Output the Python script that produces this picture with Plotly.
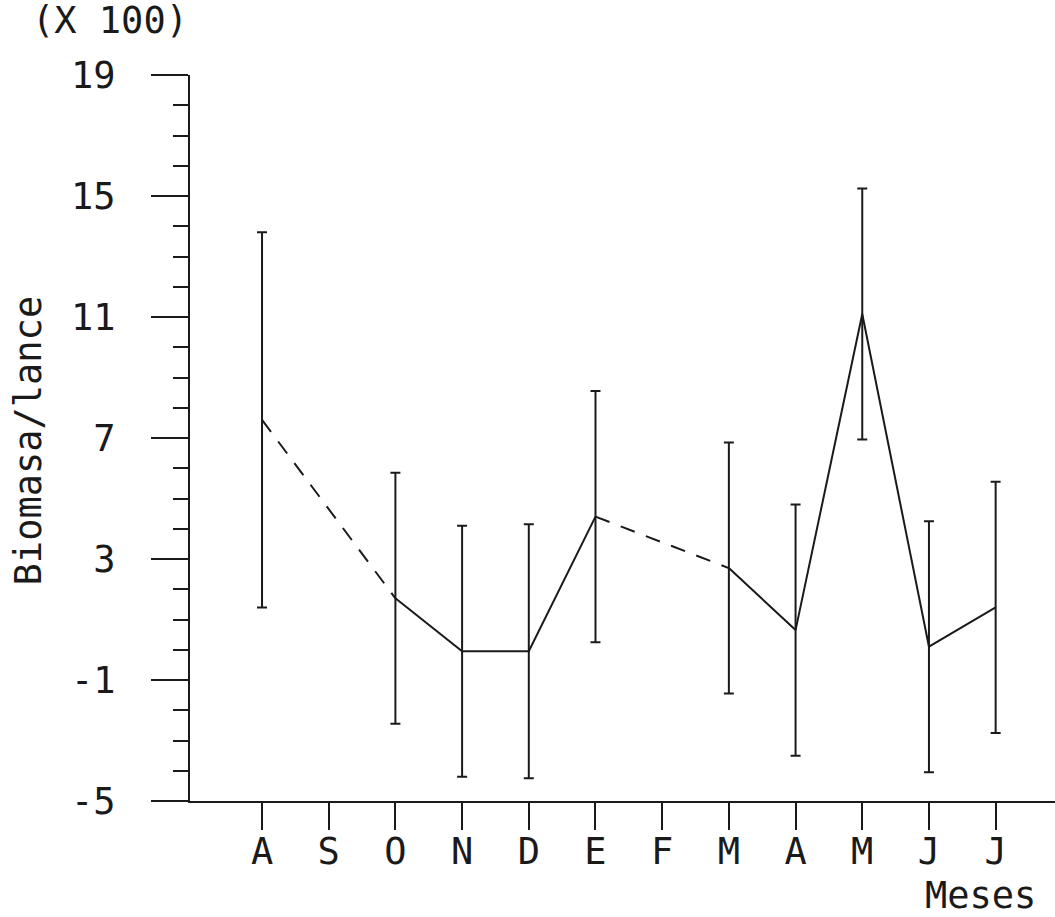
import plotly.graph_objects as go

# ---- data ----
months = ["A", "S", "O", "N", "D", "E", "F", "M", "A", "M", "J", "J"]
biomasa = [7.6, None, 1.7, -0.05, -0.05, 4.4, None, 2.7, 0.65, 11.1, 0.1, 1.4]
error = [6.2, None, 4.15, 4.15, 4.2, 4.15, None, 4.15, 4.15, 4.15, 4.15, 4.15]
y_ticks = [19, 15, 11, 7, 3, -1, -5]
y_ticktext = ["19", "15", "11", "7", "3", "-1", "-5"]

x_idx = list(range(len(months)))

FONT = "DejaVu Sans Mono"
INK = "#1a1a1a"

fig = go.Figure()

# solid line segments (gaps where no sample)
fig.add_trace(go.Scatter(
    x=x_idx, y=biomasa, mode="lines", connectgaps=False,
    line=dict(color=INK, width=2), hoverinfo="skip", showlegend=False))

# dashed segments bridging the missing months
valid = [i for i, v in enumerate(biomasa) if v is not None]
for a, b in zip(valid[:-1], valid[1:]):
    if b - a > 1:
        fig.add_trace(go.Scatter(
            x=[x_idx[a], x_idx[b]], y=[biomasa[a], biomasa[b]], mode="lines",
            line=dict(color=INK, width=2, dash="15px,12px"),
            hoverinfo="skip", showlegend=False))

# error bars
fig.add_trace(go.Scatter(
    x=[x_idx[i] for i in valid], y=[biomasa[i] for i in valid],
    mode="markers", marker=dict(size=1, color=INK),
    error_y=dict(type="data", array=[error[i] for i in valid], visible=True,
                 color=INK, thickness=2, width=5),
    showlegend=False))

fig.update_layout(
    width=1055, height=917,
    margin=dict(l=190, r=0, t=75, b=116),
    paper_bgcolor="white", plot_bgcolor="white",
    font=dict(family=FONT, size=37, color=INK),
    xaxis=dict(
        range=[-1.08, 11.89], tickvals=x_idx, ticktext=months,
        showgrid=False, zeroline=False, showline=True, linecolor=INK, linewidth=2,
        ticks="outside", ticklen=27, tickwidth=2, tickcolor=INK,
        ticklabelstandoff=-10, tickfont=dict(family=FONT, size=37, color=INK)),
    yaxis=dict(
        range=[-5, 19], tickvals=y_ticks, ticktext=y_ticktext,
        showgrid=False, zeroline=False, showline=True, linecolor=INK, linewidth=2,
        ticks="outside", ticklen=37, tickwidth=2, tickcolor=INK,
        ticklabelstandoff=28, tickfont=dict(family=FONT, size=37, color=INK),
        minor=dict(dtick=1, tick0=-5, ticks="outside", ticklen=15, tickwidth=2,
                   tickcolor=INK, showgrid=False)),
    annotations=[
        dict(text="(X 100)", xref="paper", yref="paper", x=-0.185, y=1.075,
             xanchor="left", yanchor="middle", showarrow=False,
             font=dict(family=FONT, size=37, color=INK)),
        dict(text="Biomasa/lance", xref="paper", yref="paper", x=-0.187, y=0.497,
             xanchor="center", yanchor="middle", textangle=-90, showarrow=False,
             font=dict(family=FONT, size=37, color=INK)),
        dict(text="Meses", xref="x", yref="paper", x=10.78, y=-0.13,
             xanchor="center", yanchor="middle", showarrow=False,
             font=dict(family=FONT, size=37, color=INK)),
    ],
)

fig.write_html("out.html")
